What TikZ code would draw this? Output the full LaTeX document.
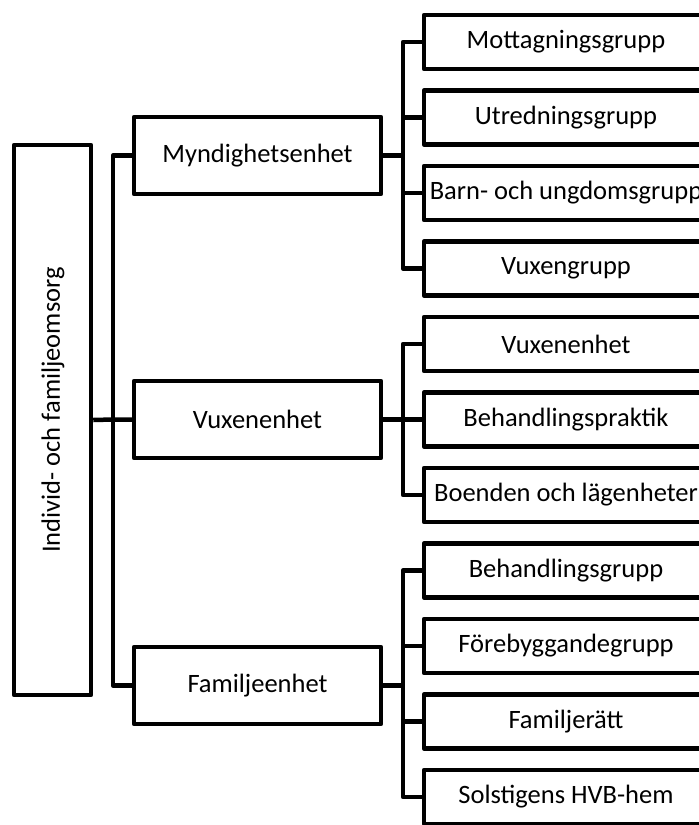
\documentclass[tikz,border=0pt]{standalone}
\usepackage{fontspec}
\setmainfont{Carlito}
\begin{document}
\begin{tikzpicture}[x=1pt,y=-1pt,
  every node/.style={font=\fontsize{26.5}{32}\selectfont, inner sep=0pt},
  box/.style={draw=black, line width=4.5pt, line join=round, fill=white},
  rootbox/.style={box, minimum width=77pt, minimum height=550pt},
  midbox/.style={box, minimum width=247pt, minimum height=77pt},
  leafbox/.style={box, minimum width=284pt, minimum height=54pt},
  conn/.style={draw=black, line width=4.5pt, line join=round}]
\clip (0,0) rectangle (699,825);
\useasboundingbox (0,0) rectangle (699,825);
\fill[white] (0,0) rectangle (699,825);
% root
\node[rootbox] (root) at (52.5,420) {};
\node[rotate=90] (roottxt) at (53,410) {Individ- och familjeomsorg};
% middle
\node[midbox] (m1) at (257.5,155.5) {Myndighetsenhet};
\node[midbox] (m2) at (257.5,419.5) {Vuxenenhet};
\node[midbox] (m3) at (257.5,685.5) {Familjeenhet};
% leaves
\node[leafbox] (a1) at (566,42) {Mottagningsgrupp};
\node[leafbox] (a2) at (566,117.5) {Utredningsgrupp};
\node[leafbox] (a3) at (566,193) {Barn- och ungdomsgrupp};
\node[leafbox] (a4) at (566,268.5) {Vuxengrupp};
\node[leafbox] (b1) at (566,344) {Vuxenenhet};
\node[leafbox] (b2) at (566,419.5) {Behandlingspraktik};
\node[leafbox] (b3) at (566,495) {Boenden och lägenheter};
\node[leafbox] (c1) at (566,570.5) {Behandlingsgrupp};
\node[leafbox] (c2) at (566,646) {Förebyggandegrupp};
\node[leafbox] (c3) at (566,721.5) {Familjerätt};
\node[leafbox] (c4) at (566,797) {Solstigens HVB-hem};
% bus coordinates
\coordinate (rb) at (113,419.5);
\coordinate (ra) at (403,155.5);
\coordinate (rbb) at (403,419.5);
\coordinate (rc) at (403,685.5);
% root connectors
\draw[conn] (root.east) -- (rb) -- (m2.west);
\draw[conn] (m1.west) -| (rb) |- (m3.west);
% group A
\draw[conn] (m1.east) -- (ra);
\draw[conn] (a1.west) -| (ra) |- (a4.west);
\draw[conn] (ra) |- (a2.west);
\draw[conn] (ra) |- (a3.west);
% group B
\draw[conn] (m2.east) -- (rbb);
\draw[conn] (b1.west) -| (rbb) |- (b3.west);
\draw[conn] (rbb) -- (b2.west);
% group C
\draw[conn] (m3.east) -- (rc);
\draw[conn] (c1.west) -| (rc) |- (c4.west);
\draw[conn] (rc) |- (c2.west);
\draw[conn] (rc) |- (c3.west);
\end{tikzpicture}
\end{document}
